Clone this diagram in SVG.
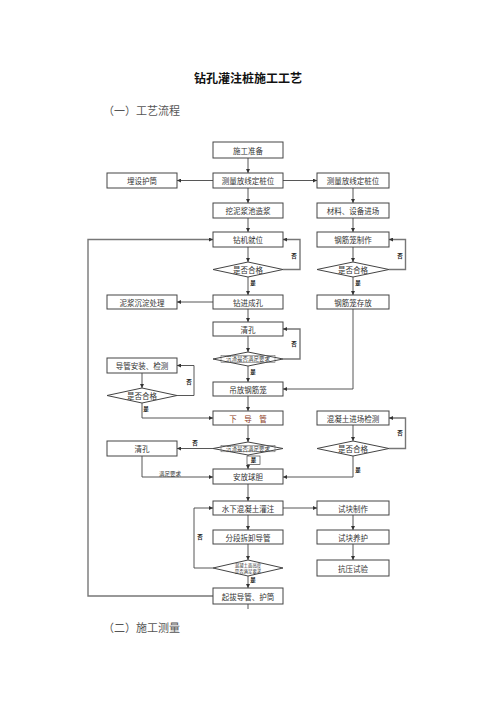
<svg xmlns="http://www.w3.org/2000/svg" width="496" height="702" viewBox="0 0 496 702">
<style>
text{font-family:"Noto Sans CJK SC","Noto Sans",sans-serif;}
.box{fill:#fff;stroke:#444;stroke-width:1;}
.t{font-size:7.5px;fill:#333;text-anchor:middle;dominant-baseline:central;}
.dt{font-size:5.5px;fill:#333;text-anchor:middle;dominant-baseline:central;}
.dt2{font-size:4.4px;fill:#333;text-anchor:middle;dominant-baseline:central;}
.lb{font-size:5.5px;fill:#222;font-weight:bold;text-anchor:middle;dominant-baseline:central;}
.ln{fill:none;stroke:#444;stroke-width:0.9;}
.lp{fill:none;stroke:#777;stroke-width:1.4;}
</style>
<defs>
<marker id="a" viewBox="0 0 6 6" refX="6" refY="3" markerWidth="4" markerHeight="4" orient="auto" markerUnits="userSpaceOnUse">
<path d="M0,0 L6,3 L0,6 z" fill="#333"/>
</marker>
</defs>
<rect width="496" height="702" fill="#fff"/>
<text x="248" y="77" font-size="12" font-weight="bold" text-anchor="middle" dominant-baseline="central" fill="#111">钻孔灌注桩施工工艺</text>
<text x="103" y="110" font-size="11" dominant-baseline="central" fill="#555">（一）工艺流程</text>
<text x="103" y="627" font-size="11" dominant-baseline="central" fill="#555">（二）施工测量</text>

<g id="connectors">
<path class="ln" d="M248,158 V173" marker-end="url(#a)"/>
<path class="ln" d="M213,180.5 H177" marker-end="url(#a)"/>
<path class="ln" d="M283,180.5 H317" marker-end="url(#a)"/>
<path class="ln" d="M248,188 V203" marker-end="url(#a)"/>
<path class="ln" d="M353,188 V203" marker-end="url(#a)"/>
<path class="ln" d="M248,218 V232" marker-end="url(#a)"/>
<path class="ln" d="M353,218 V232" marker-end="url(#a)"/>
<path class="ln" d="M248,247 V262" marker-end="url(#a)"/>
<path class="ln" d="M353,247 V262" marker-end="url(#a)"/>
<path class="lp" d="M283,269.5 H300 V239.5 H283" marker-end="url(#a)"/>
<text class="lb" x="294" y="256">否</text>
<path class="lp" d="M389,269.5 H405.5 V239.5 H389" marker-end="url(#a)"/>
<text class="lb" x="400" y="256">否</text>
<path class="ln" d="M248,277 V295" marker-end="url(#a)"/>
<text class="lb" x="253" y="283">是</text>
<path class="ln" d="M353,277 V295" marker-end="url(#a)"/>
<text class="lb" x="358" y="283">是</text>
<path class="ln" d="M213,302 H177" marker-end="url(#a)"/>
<path class="ln" d="M248,309 V322" marker-end="url(#a)"/>
<path class="ln" d="M248,336 V352" marker-end="url(#a)"/>
<path class="lp" d="M283,359 H300 V329 H283" marker-end="url(#a)"/>
<text class="lb" x="294" y="344">否</text>
<path class="ln" d="M248,366 V382" marker-end="url(#a)"/>
<text class="lb" x="253" y="372">是</text>
<path class="ln" d="M353,309 V389 H283" marker-end="url(#a)"/>
<path class="ln" d="M142,373 V388" marker-end="url(#a)"/>
<path class="ln" d="M177,395.5 H194 V365.5 H177" marker-end="url(#a)"/>
<text class="lb" x="189" y="382">否</text>
<path class="ln" d="M142,403 V418 H213" marker-end="url(#a)"/>
<text class="lb" x="146" y="409">是</text>
<path class="ln" d="M248,396 V411" marker-end="url(#a)"/>
<path class="ln" d="M248,425 V442" marker-end="url(#a)"/>
<path class="ln" d="M353,425 V441" marker-end="url(#a)"/>
<path class="lp" d="M389,448.5 H405.5 V418 H389" marker-end="url(#a)"/>
<text class="lb" x="400" y="433">否</text>
<path class="ln" d="M213,448.5 H177" marker-end="url(#a)"/>
<text class="lb" x="195" y="443">否</text>
<path class="ln" d="M248,455 V469" marker-end="url(#a)"/>
<rect x="247" y="456" width="13" height="8.5" fill="#fff" stroke="#444" stroke-width="0.7"/>
<text class="lb" x="253.5" y="460.3">是</text>
<path class="ln" d="M142,456 V477 H213" marker-end="url(#a)"/>
<text x="170" y="473.5" font-size="5.5" fill="#333" text-anchor="middle" dominant-baseline="central">满足要求</text>
<path class="ln" d="M353,456 V477 H283" marker-end="url(#a)"/>
<text class="lb" x="358" y="470">是</text>
<path class="ln" d="M248,484 V501" marker-end="url(#a)"/>
<path class="ln" d="M283,508 H317" marker-end="url(#a)"/>
<path class="ln" d="M248,515 V530" marker-end="url(#a)"/>
<path class="ln" d="M353,515 V530" marker-end="url(#a)"/>
<path class="ln" d="M248,544 V560" marker-end="url(#a)"/>
<path class="ln" d="M353,544 V560" marker-end="url(#a)"/>
<path class="ln" d="M213,568 H194 V508 H213" marker-end="url(#a)"/>
<text class="lb" x="200" y="537">否</text>
<path class="ln" d="M248,576 V588" marker-end="url(#a)"/>
<text class="lb" x="253" y="580">是</text>
<path class="lp" d="M213,596 H88 V239.5 H213" marker-end="url(#a)"/>
<path class="ln" d="M248,604 V609"/>
</g>

<g id="n1"><rect class="box" x="213" y="142" width="70" height="16"/><text class="t" x="248" y="150">施工准备</text></g>
<g id="n2"><rect class="box" x="213" y="173" width="70" height="15"/><text class="t" x="248" y="180.5">测量放线定桩位</text></g>
<g id="n3"><rect class="box" x="107" y="173" width="70" height="15"/><text class="t" x="142" y="180.5">埋设护筒</text></g>
<g id="n4"><rect class="box" x="317" y="173" width="72" height="15"/><text class="t" x="353" y="180.5">测量放线定桩位</text></g>
<g id="n5"><rect class="box" x="213" y="203" width="70" height="15"/><text class="t" x="248" y="210.5">挖泥浆池造浆</text></g>
<g id="n6"><rect class="box" x="317" y="203" width="72" height="15"/><text class="t" x="353" y="210.5">材料、设备进场</text></g>
<g id="n7"><rect class="box" x="213" y="232" width="70" height="15"/><text class="t" x="248" y="239.5">钻机就位</text></g>
<g id="n8"><rect class="box" x="317" y="232" width="72" height="15"/><text class="t" x="353" y="239.5">钢筋笼制作</text></g>
<g id="n9"><polygon class="box" points="213,269.5 248,262 283,269.5 248,277"/><text class="t" x="248" y="269.5">是否合格</text></g>
<g id="n10"><polygon class="box" points="317,269.5 353,262 389,269.5 353,277"/><text class="t" x="353" y="269.5">是否合格</text></g>
<g id="n11"><rect class="box" x="107" y="295" width="70" height="14"/><text class="t" x="142" y="302">泥浆沉淀处理</text></g>
<g id="n12"><rect class="box" x="213" y="295" width="70" height="14"/><text class="t" x="248" y="302">钻进成孔</text></g>
<g id="n13"><rect class="box" x="317" y="295" width="72" height="14"/><text class="t" x="353" y="302">钢筋笼存放</text></g>
<g id="n14"><rect class="box" x="213" y="322" width="70" height="14"/><text class="t" x="248" y="329">清孔</text></g>
<g id="n15"><polygon class="box" points="213,359 248,352 283,359 248,366"/><rect x="221" y="355.5" width="54" height="7" fill="none" stroke="#555" stroke-width="0.5"/><text class="dt" x="248" y="359">沉渣是否满足要求</text></g>
<g id="n16"><rect class="box" x="107" y="358" width="70" height="15"/><text class="t" x="142" y="365.5">导管安装、检测</text></g>
<g id="n17"><rect class="box" x="213" y="382" width="70" height="14"/><text class="t" x="248" y="389">吊放钢筋笼</text></g>
<g id="n18"><polygon class="box" points="107,395.5 142,388 177,395.5 142,403"/><text class="t" x="142" y="395.5">是否合格</text></g>
<g id="n19"><rect class="box" x="213" y="411" width="70" height="14"/><text class="t" x="248" y="418" style="fill:#8a3a1a">下　导　管</text></g>
<g id="n20"><rect class="box" x="317" y="411" width="72" height="14"/><text class="t" x="353" y="418">混凝土进场检测</text></g>
<g id="n21"><polygon class="box" points="213,448.5 248,442 283,448.5 248,455"/><rect x="221" y="445.3" width="54" height="6.5" fill="none" stroke="#555" stroke-width="0.5"/><text class="dt" x="248" y="448.5">沉渣是否满足要求</text></g>
<g id="n22"><rect class="box" x="107" y="441" width="70" height="15"/><text class="t" x="142" y="448.5">清孔</text></g>
<g id="n23"><polygon class="box" points="317,448.5 353,441 389,448.5 353,456"/><text class="t" x="353" y="448.5">是否合格</text></g>
<g id="n24"><rect class="box" x="213" y="469" width="70" height="15"/><text class="t" x="248" y="476.5">安放球胆</text></g>
<g id="n25"><rect class="box" x="213" y="501" width="70" height="14"/><text class="t" x="248" y="508">水下混凝土灌注</text></g>
<g id="n26"><rect class="box" x="317" y="501" width="72" height="14"/><text class="t" x="353" y="508">试块制作</text></g>
<g id="n27"><rect class="box" x="213" y="530" width="70" height="14"/><text class="t" x="248" y="537">分段拆卸导管</text></g>
<g id="n28"><rect class="box" x="317" y="530" width="72" height="14"/><text class="t" x="353" y="537">试块养护</text></g>
<g id="n29"><polygon class="box" points="213,568 248,560 283,568 248,576"/><text class="dt2" x="248" y="564.6">混凝土面高度</text><text class="dt2" x="248" y="571.4">是否满足要求</text></g>
<g id="n30"><rect class="box" x="317" y="560" width="72" height="16"/><text class="t" x="353" y="568">抗压试验</text></g>
<g id="n31"><rect class="box" x="213" y="588" width="70" height="16"/><text class="t" x="248" y="596">起拔导管、护筒</text></g>
</svg>
